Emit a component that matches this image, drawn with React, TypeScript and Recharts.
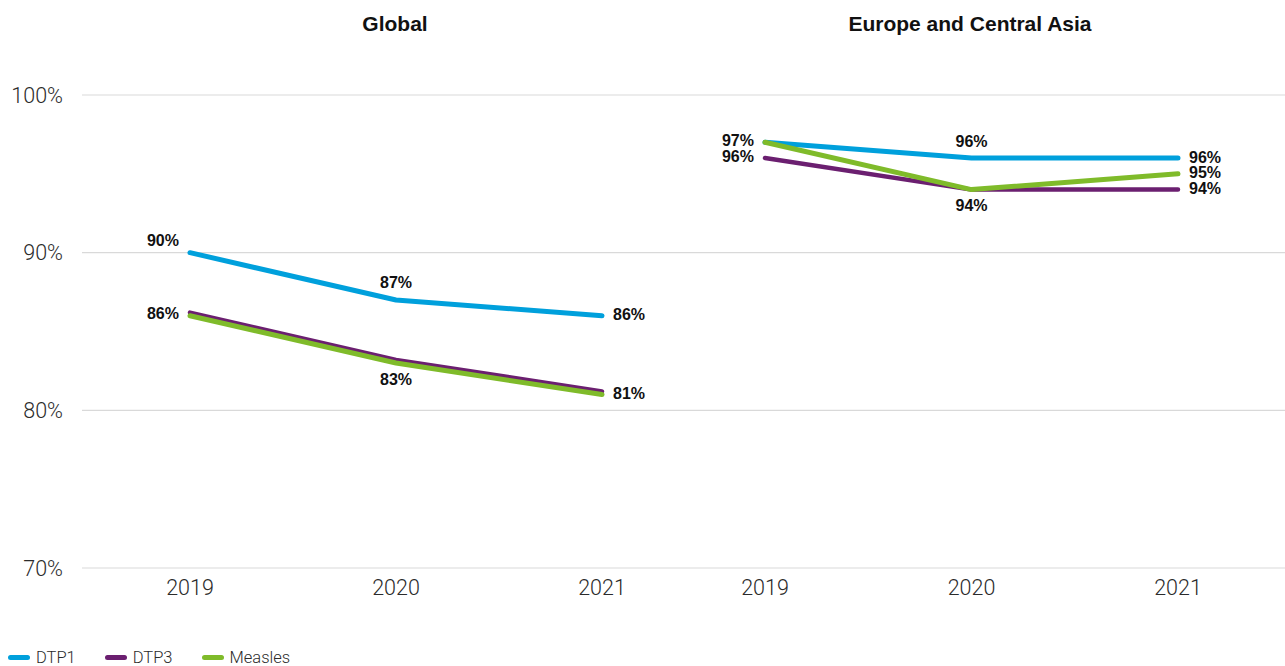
import { CartesianGrid, LabelList, Line, LineChart, XAxis, YAxis } from 'recharts';

const years = ['2019', '2020', '2021'];
const globalDtp1 = [90, 87, 86];
const globalDtp3 = [86.2, 83.2, 81.2];
const globalMeasles = [86, 83, 81];
const ecaDtp1 = [97, 96, 96];
const ecaDtp3 = [96, 94, 94];
const ecaMeasles = [97, 94, 95];
const yTicks = [70, 80, 90, 100];

const COLORS = { dtp1: '#00a0dc', dtp3: '#6b1f70', measles: '#7fbb2a' };
const GRID_STROKE = '#d9d9d9';
const LABEL_FONT = '"Liberation Sans", Arial, sans-serif';
const TICK_FONT = 'Roboto, "Liberation Sans", sans-serif';

type Pos = 'topLeft' | 'left' | 'top' | 'bottom' | 'right' | null;

const globalLabelPos: Record<string, Pos[]> = {
	dtp1: ['topLeft', 'top', 'right'],
	dtp3: [null, null, null],
	measles: ['left', 'bottom', 'right'],
};
const ecaLabelPos: Record<string, Pos[]> = {
	dtp1: ['left', 'top', 'right'],
	dtp3: ['left', null, 'right'],
	measles: [null, 'bottom', 'right'],
};

function buildRows(d1: number[], d3: number[], m: number[]) {
	return years.map((year, i) => ({ year, dtp1: d1[i], dtp3: d3[i], measles: m[i] }));
}

const globalRows = buildRows(globalDtp1, globalDtp3, globalMeasles);
const ecaRows = buildRows(ecaDtp1, ecaDtp3, ecaMeasles);

function makeLabel(positions: Pos[]) {
	return (props: any) => {
		const { x, y, value, index } = props;
		const pos = positions[index];
		if (!pos) return null;
		let tx = x;
		let ty = y;
		let anchor: 'start' | 'middle' | 'end' = 'middle';
		if (pos === 'topLeft') {
			tx = x - 11;
			ty = y - 12;
			anchor = 'end';
		} else if (pos === 'left') {
			tx = x - 11;
			ty = y - 2;
			anchor = 'end';
		} else if (pos === 'top') {
			ty = y - 17;
		} else if (pos === 'bottom') {
			ty = y + 16;
		} else if (pos === 'right') {
			tx = x + 11;
			ty = y - 1;
			anchor = 'start';
		}
		return (
			<text
				x={tx}
				y={ty}
				textAnchor={anchor}
				dominantBaseline="central"
				fontFamily={LABEL_FONT}
				fontWeight={700}
				fontSize={16}
				fill="#111"
			>
				{`${Math.round(Number(value))}%`}
			</text>
		);
	};
}

const tickStyle = { fontSize: 21.5, fill: '#2b2b2b', fontFamily: TICK_FONT, fontWeight: 300 };

interface PanelProps {
	rows: typeof globalRows;
	width: number;
	labels: Record<string, Pos[]>;
	padding: { left: number; right: number };
	showYAxis: boolean;
}

function Panel({ rows, width, labels, padding, showYAxis }: PanelProps) {
	return (
		<LineChart width={width} height={610} data={rows} margin={{ top: 95, right: 0, bottom: 0, left: 0 }}>
			<CartesianGrid vertical={false} stroke={GRID_STROKE} strokeWidth={1.2} />
			<XAxis
				dataKey="year"
				axisLine={false}
				tickLine={false}
				tickSize={0}
				tickMargin={12}
				height={42}
				padding={padding}
				tick={tickStyle}
			/>
			<YAxis
				domain={[70, 100]}
				ticks={yTicks}
				hide={!showYAxis}
				width={82}
				axisLine={false}
				tickLine={false}
				tickSize={0}
				tickMargin={19}
				tick={tickStyle}
				tickFormatter={(v) => `${v}%`}
			/>
			{(['dtp1', 'dtp3', 'measles'] as const).map((key) => (
				<Line
					key={key}
					type="linear"
					dataKey={key}
					stroke={COLORS[key]}
					strokeWidth={key === 'dtp3' ? 4.5 : 5}
					strokeLinecap="round"
					strokeLinejoin="round"
					dot={false}
					isAnimationActive={false}
				>
					<LabelList dataKey={key} content={makeLabel(labels[key])} />
				</Line>
			))}
		</LineChart>
	);
}

const legendItems = [
	{ name: 'DTP1', color: COLORS.dtp1 },
	{ name: 'DTP3', color: COLORS.dtp3 },
	{ name: 'Measles', color: COLORS.measles },
];

const titleStyle: React.CSSProperties = {
	position: 'absolute',
	top: 12,
	fontFamily: LABEL_FONT,
	fontWeight: 700,
	fontSize: 21,
	color: '#111',
	textAlign: 'center',
	width: 400,
};

export default function App() {
	return (
		<div style={{ position: 'absolute', left: 0, top: 0, width: 1285, height: 666, background: '#fff', overflow: 'hidden' }}>
			<div style={{ ...titleStyle, left: 395 - 200 }}>Global</div>
			<div style={{ ...titleStyle, left: 970 - 200 }}>Europe and Central Asia</div>
			<div style={{ position: 'absolute', left: 0, top: 0, display: 'flex' }}>
				<Panel rows={globalRows} width={683} labels={globalLabelPos} padding={{ left: 108, right: 81 }} showYAxis />
				<Panel rows={ecaRows} width={602} labels={ecaLabelPos} padding={{ left: 82, right: 107 }} showYAxis={false} />
			</div>
			<div style={{ position: 'absolute', left: 8, top: 650, display: 'flex', alignItems: 'center', fontFamily: TICK_FONT, fontWeight: 300, fontSize: 16.5, lineHeight: '15px', color: '#2b2b2b' }}>
				{legendItems.map((item) => (
					<div key={item.name} style={{ display: 'flex', alignItems: 'center', marginRight: 29 }}>
						<span style={{ display: 'inline-block', width: 22, height: 5, borderRadius: 3, background: item.color, marginRight: 6 }} />
						{item.name}
					</div>
				))}
			</div>
		</div>
	);
}
